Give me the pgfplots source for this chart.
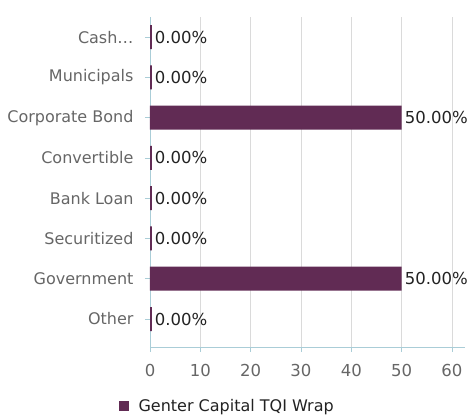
\documentclass[border=0pt]{standalone}
\usepackage{fontspec}
\setmainfont{DejaVu Sans}
\usepackage{pgfplots}
\pgfplotsset{compat=1.18}
\definecolor{barcol}{RGB}{97,43,84}
\definecolor{axcol}{RGB}{170,205,215}
\definecolor{gridcol}{RGB}{218,218,218}
\definecolor{lblcol}{RGB}{102,102,102}
\definecolor{valcol}{RGB}{34,34,34}
\newcommand\fs{\fontsize{16}{19}\selectfont}
\newcommand\fn{\fontsize{16.5}{19}\selectfont}
\begin{document}
\begin{tikzpicture}[x=1pt,y=1pt]
\useasboundingbox (0,0) rectangle (469,419);
\begin{axis}[
  at={(150pt,72pt)}, anchor=south west,
  scale only axis, width=315pt, height=330pt,
  xbar, bar width=24pt, bar shift=0pt,
  xmin=0, xmax=62.6, ymin=-0.695, ymax=7.5,
  ytick={0,...,7},
  yticklabels={Other,Government,Securitized,Bank Loan,Convertible,Corporate Bond,Municipals,Cash…},
  xtick={0,10,...,60},
  axis lines*=left,
  axis line style={draw=axcol, line width=0.8pt},
  tick style={draw=axcol, line width=0.8pt},
  tick align=outside, major tick length=5pt,
  xmajorgrids, grid style={draw=gridcol, line width=0.8pt},
  /pgf/number format/assume math mode=true,
  yticklabel style={font=\fs, text=lblcol, xshift=-8pt},
  xticklabel style={font=\fn, text=lblcol, yshift=-9pt},
  nodes near coords={\pgfmathprintnumber[fixed,fixed zerofill,precision=2]{\pgfplotspointmeta}\%},
  nodes near coords style={font=\fn, text=valcol, anchor=west, inner sep=2pt, xshift=1pt},
  legend style={at={(0.245,-0.179)}, anchor=center, draw=none, fill=none, font=\fs, text=valcol,
    /tikz/every odd column/.append style={column sep=8pt}},
  legend image code/.code={\fill[barcol] (0pt,-5pt) rectangle (10pt,5pt);},
]
\addplot[fill=barcol, draw=none] coordinates {
  (50,1) (50,5)
};
\addlegendentry{Genter Capital TQI Wrap}
\addplot[fill=barcol, draw=barcol, line width=2pt, xshift=1pt, forget plot] coordinates {
  (0,0) (0,2) (0,3) (0,4) (0,6) (0,7)
};
\end{axis}
\end{tikzpicture}
\end{document}
